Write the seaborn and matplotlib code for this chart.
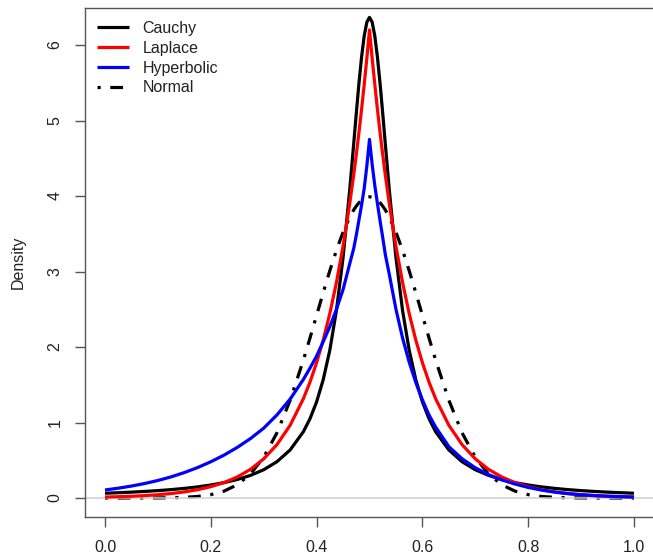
import matplotlib
matplotlib.use("Agg")
import matplotlib.pyplot as plt
import seaborn as sns
import pandas as pd
from matplotlib.lines import Line2D

# ---- data ----
x_vals = [0.0, 0.025, 0.05, 0.075, 0.1, 0.125, 0.15, 0.175, 0.2, 0.225, 0.25, 0.275,
          0.3, 0.325, 0.35, 0.375, 0.3875, 0.4, 0.4125, 0.425, 0.4375, 0.45, 0.4625, 0.47, 0.475,
          0.48, 0.485, 0.49, 0.495, 0.5,
          0.505, 0.51, 0.515, 0.52, 0.525, 0.53, 0.5375, 0.55, 0.5625, 0.575, 0.5875,
          0.6, 0.6125, 0.625, 0.65, 0.675, 0.7, 0.725,
          0.75, 0.775, 0.8, 0.825, 0.85, 0.875, 0.9, 0.925, 0.95, 0.975, 1.0]

cauchy = [0.063, 0.0698, 0.0776, 0.0869, 0.0979, 0.1112, 0.1273, 0.1472, 0.1721, 0.2037,
          0.2448, 0.2996, 0.3745, 0.4805, 0.6366, 0.8781, 1.050, 1.2732, 1.567, 1.9588, 2.484,
          3.183, 4.074, 4.681, 5.093,
          5.488, 5.840, 6.121, 6.303, 6.366,
          6.303, 6.121, 5.840, 5.488, 5.093, 4.681, 4.074, 3.183, 2.484, 1.9588, 1.567,
          1.2732, 1.050, 0.8781, 0.6366, 0.4805, 0.3745, 0.2996,
          0.2448, 0.2037, 0.1721, 0.1472, 0.1273, 0.1112, 0.0979, 0.0869, 0.0776, 0.0698, 0.063]

laplace = [0.0125, 0.0171, 0.0233, 0.0318, 0.0433, 0.0590, 0.0806, 0.1099, 0.1498, 0.2043,
           0.2786, 0.380, 0.518, 0.7065, 0.9638, 1.315, 1.535, 1.792, 2.093, 2.444, 2.855,
           3.334, 3.893, 4.273, 4.547,
           4.837, 5.148, 5.477, 5.827, 6.2,
           5.827, 5.477, 5.148, 4.837, 4.547, 4.273, 3.893, 3.334, 2.855, 2.444, 2.093,
           1.792, 1.535, 1.315, 0.9638, 0.7065, 0.518, 0.380,
           0.2786, 0.2043, 0.1498, 0.1099, 0.0806, 0.0590, 0.0433, 0.0318, 0.0233, 0.0171, 0.0125]

hyperbolic = [0.106, 0.130, 0.158, 0.192, 0.232, 0.280, 0.337, 0.403, 0.480, 0.568,
              0.670, 0.787, 0.925, 1.10, 1.31, 1.57, 1.72, 1.88, 2.07, 2.27, 2.50,
              2.76, 3.10, 3.30, 3.48,
              3.68, 3.88, 4.10, 4.40, 4.75,
              4.42, 4.14, 3.90, 3.67, 3.45, 3.22, 2.96, 2.50, 2.12, 1.80, 1.53,
              1.30, 1.10, 0.94, 0.68, 0.52, 0.40, 0.31,
              0.24, 0.185, 0.14, 0.105, 0.078, 0.058, 0.043, 0.032, 0.024, 0.018, 0.013]

normal = [0.0, 0.0001, 0.0002, 0.0005, 0.0013, 0.0035, 0.0087, 0.0203, 0.0443, 0.0910,
          0.1753, 0.3174, 0.5399, 0.8628, 1.2952, 1.8264, 2.119, 2.4197, 2.720, 3.0110, 3.282,
          3.5207, 3.718, 3.814, 3.8664,
          3.910, 3.9444, 3.9695, 3.9844, 3.9894,
          3.9844, 3.9695, 3.9444, 3.910, 3.8664, 3.814, 3.718, 3.5207, 3.282, 3.0110, 2.720,
          2.4197, 2.119, 1.8264, 1.2952, 0.8628, 0.5399, 0.3174,
          0.1753, 0.0910, 0.0443, 0.0203, 0.0087, 0.0035, 0.0013, 0.0005, 0.0002, 0.0001, 0.0]

series_names = ["Cauchy", "Laplace", "Hyperbolic", "Normal"]
x_ticks = [0.0, 0.2, 0.4, 0.6, 0.8, 1.0]
x_tick_labels = ["0.0", "0.2", "0.4", "0.6", "0.8", "1.0"]
y_ticks = [0, 1, 2, 3, 4, 5, 6]
y_tick_labels = ["0", "1", "2", "3", "4", "5", "6"]

# ---- style ----
sns.set_style("white")
plt.rcParams["font.family"] = ["Liberation Sans", "DejaVu Sans"]

W, H = 653, 555
fig = plt.figure(figsize=(W / 100, H / 100), dpi=100)
ax_left, ax_right, ax_top, ax_bot = 85, 662, 8, 517
ax = fig.add_axes([ax_left / W, (H - ax_bot) / H, (ax_right - ax_left) / W, (ax_bot - ax_top) / H])

# pixel calibration: x=0 at px 105, x=1 at px 634 ; y=0 at 498, y=6 at 45
xs = 529.0
x0 = 105.0
ys = 75.5
y0 = 498.0
ax.set_xlim((ax_left - x0) / xs, (ax_right - x0) / xs)
ax.set_ylim((y0 - ax_bot) / ys, (y0 - ax_top) / ys)

df = pd.DataFrame({"x": x_vals, "Cauchy": cauchy, "Laplace": laplace,
                   "Hyperbolic": hyperbolic, "Normal": normal})

lw = 2.3
colors = {"Cauchy": "#000000", "Laplace": "#FF0000", "Hyperbolic": "#0000FF", "Normal": "#000000"}
styles = {"Cauchy": "-", "Laplace": "-", "Hyperbolic": "-", "Normal": (0, (1, 3, 4, 3))}
zorders = {"Cauchy": 3, "Laplace": 4, "Hyperbolic": 5, "Normal": 2}

ax.axhline(0, color="#D0D0D0", lw=1.1, zorder=2.5)

for name in series_names:
    sns.lineplot(data=df, x="x", y=name, ax=ax, color=colors[name], linestyle=styles[name],
                 lw=lw, sort=False, estimator=None, zorder=zorders[name],
                 solid_capstyle="butt", dash_capstyle="butt")

# axes styling (R base graphics look)
for side in ["left", "bottom", "top"]:
    ax.spines[side].set_visible(True)
    ax.spines[side].set_color("#555555")
    ax.spines[side].set_linewidth(1.0)
ax.spines["right"].set_visible(False)

ax.set_xticks(x_ticks)
ax.set_xticklabels(x_tick_labels)
ax.set_yticks(y_ticks)
ax.set_yticklabels(y_tick_labels, rotation=90, va="center")
ax.tick_params(axis="both", direction="out", length=7.2, width=1.0, color="#555555",
               labelsize=11.5, labelcolor="#222222", left=True, bottom=True)
ax.tick_params(axis="x", pad=9)
ax.tick_params(axis="y", pad=9)
ax.set_xlabel("")
ax.set_ylabel("Density", fontsize=11.5, color="#222222", labelpad=16)
ax.grid(False)

handles = [Line2D([], [], color=colors[n], lw=lw, linestyle=styles[n],
                  dash_capstyle="butt", solid_capstyle="butt") for n in series_names]
leg = ax.legend(handles, series_names, loc="upper left", frameon=False,
                bbox_to_anchor=(97 / W, (H - 21) / H), bbox_transform=fig.transFigure,
                borderpad=0, borderaxespad=0, handlelength=2.0, handletextpad=0.85,
                labelspacing=0.3, fontsize=11.5)
for t in leg.get_texts():
    t.set_color("#222222")

fig.savefig("out.png", dpi=100)
